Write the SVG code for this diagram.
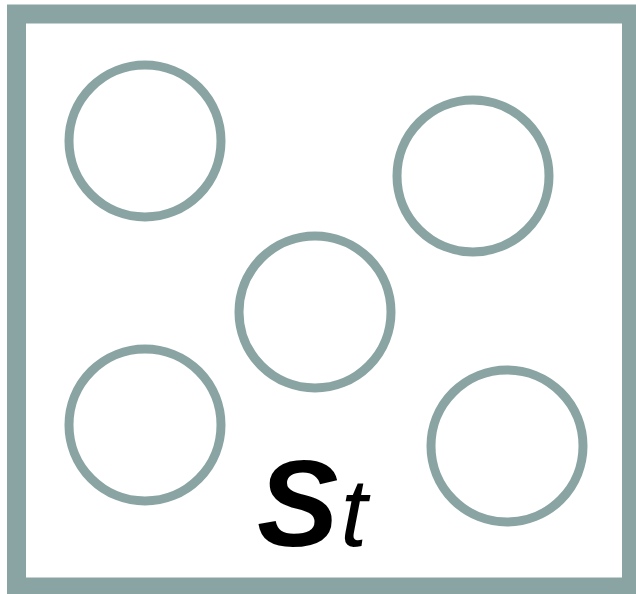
<svg xmlns="http://www.w3.org/2000/svg" width="636" height="594" viewBox="0 0 636 594">
<style>
.ring{fill:none;stroke:#8aa4a4;stroke-width:9}
.frame{fill:#fff;stroke:#8aa4a4;stroke-width:19}
.lbl{font-family:"Liberation Sans",Arial,sans-serif;fill:#000}
</style>
<rect width="636" height="594" fill="#fff"/>
<rect class="frame" x="16.5" y="14" width="615" height="573"/>
<g id="c1"><circle class="ring" cx="145" cy="141" r="76"/></g>
<g id="c2"><circle class="ring" cx="473" cy="176" r="76"/></g>
<g id="c3"><circle class="ring" cx="315" cy="312" r="76"/></g>
<g id="c4"><circle class="ring" cx="145" cy="425" r="76"/></g>
<g id="c5"><circle class="ring" cx="507" cy="446" r="76"/></g>
<g id="label"><text class="lbl" x="257" y="546"><tspan font-weight="bold" font-style="italic" font-size="122">S</tspan><tspan font-style="italic" font-size="96" dx="2">t</tspan></text></g>
</svg>
